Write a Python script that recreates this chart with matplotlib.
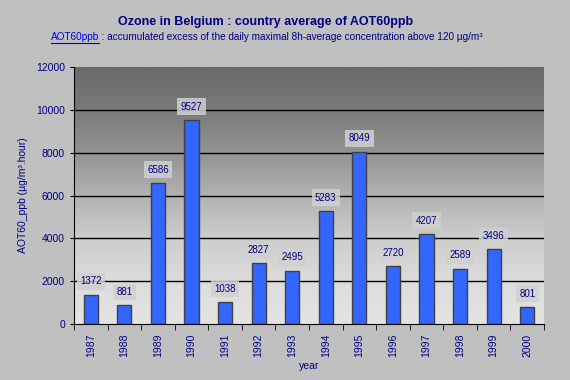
import matplotlib
matplotlib.use("Agg")
import matplotlib.pyplot as plt
import numpy as np
from matplotlib.colors import LinearSegmentedColormap

years = ["1987", "1988", "1989", "1990", "1991", "1992", "1993", "1994",
         "1995", "1996", "1997", "1998", "1999", "2000"]
values = [1372, 881, 6586, 9527, 1038, 2827, 2495, 5283, 8049, 2720, 4207, 2589, 3496, 801]
yticks = [0, 2000, 4000, 6000, 8000, 10000, 12000]

plt.rcParams['font.family'] = ['Liberation Sans', 'DejaVu Sans']

navy = "#000080"
fig = plt.figure(figsize=(5.7, 3.8), dpi=100, facecolor="#c0c0c0")
ax = fig.add_axes([74/570, 1-324/380, (544-74)/570, (324-67)/380])
ax.set_facecolor("#c0c0c0")

x = np.arange(len(years))
n = len(years)
ax.set_xlim(-0.5, n - 0.5)
ax.set_ylim(0, 12000)

# gradient background
grad = np.linspace(0, 1, 256).reshape(-1, 1)
cmap = LinearSegmentedColormap.from_list(
    "g", ["#e4e4e4", "#dcdcdc", "#cdcdcd", "#b2b2b2", "#939393", "#7a7a7a", "#6a6a6a"])
ax.imshow(grad, aspect="auto", cmap=cmap, origin="lower",
          extent=(-0.5, n - 0.5, 0, 12000), zorder=0)

for t in yticks[1:-1]:
    ax.axhline(t, color="black", lw=1.0, zorder=1)

ax.bar(x, values, width=0.42, color="#3366ff", edgecolor="#404040", lw=1.0, zorder=2)

for xi, v in zip(x, values):
    ax.text(xi, v + 380, str(v), ha="center", va="bottom", fontsize=7, color=navy,
            bbox=dict(boxstyle="square,pad=0.35", fc="#d0d0d0", ec="none", alpha=0.85), zorder=3)

for s in ["top", "right"]:
    ax.spines[s].set_visible(False)
ax.spines["left"].set_color("black")
ax.spines["bottom"].set_color("black")
ax.spines["left"].set_zorder(4)
ax.spines["bottom"].set_zorder(4)

ax.set_yticks(yticks)
ax.set_yticklabels([str(t) for t in yticks])
ax.tick_params(axis="y", direction="out", length=3, colors="black", labelcolor=navy, labelsize=7.5)
ax.set_xticks(x)
ax.set_xticklabels(years, rotation=90)
ax.tick_params(axis="x", which="major", length=0, labelcolor=navy, labelsize=7.5, pad=7)
ax.set_xticks(np.arange(-0.5, n, 1.0), minor=True)
ax.tick_params(axis="x", which="minor", direction="out", length=4, color="black")

ax.set_ylabel("AOT60_ppb (µg/m³.hour)", color=navy, fontsize=7.5, labelpad=6)
ax.set_xlabel("year", color=navy, fontsize=7.5, labelpad=3)

fig.text(266/570, 1 - 22/380, "Ozone in Belgium : country average of AOT60ppb", ha="center", va="center",
         fontsize=9, fontweight="bold", color=navy)
sub_y = 1 - 37/380
t1 = fig.text(51/570, sub_y, "AOT60ppb", ha="left", va="center", fontsize=7.2, color="#0000ee")
t2 = fig.text(100/570, sub_y, " : accumulated excess of the daily maximal 8h-average concentration above 120 µg/m³",
              ha="left", va="center", fontsize=7.2, color=navy)
fig.canvas.draw()
bb = t1.get_window_extent()
fig.add_artist(plt.Line2D([bb.x0/570, bb.x1/570], [(bb.y0 - 0.5)/380]*2, color="#0000ee", lw=0.8,
                          transform=fig.transFigure))
t2.set_x(bb.x1/570)

fig.savefig("out.png", dpi=100, facecolor=fig.get_facecolor())
